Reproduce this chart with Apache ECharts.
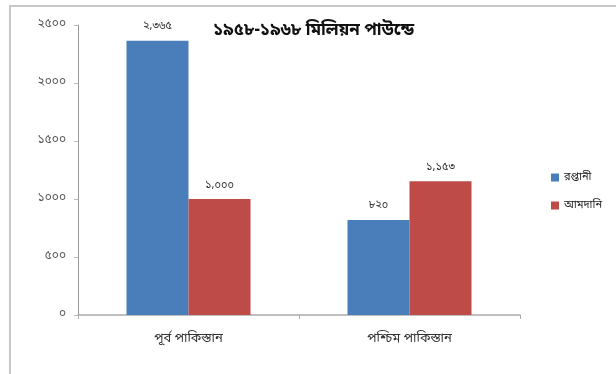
<!DOCTYPE html>
<html>
<head>
<meta charset="utf-8">
<script src="https://cdn.jsdelivr.net/npm/echarts@6/dist/echarts.min.js"></script>
<style>
  html, body { margin: 0; padding: 0; background: #fff; }
  #chart { width: 616px; height: 374px; }
</style>
</head>
<body>
<div id="chart"></div>
<script>
// চার্টের তথ্য
var categories = ["পূর্ব পাকিস্তান", "পশ্চিম পাকিস্তান"];
var exportValues = [2365, 820];   // রপ্তানী
var importValues = [1000, 1153];  // আমদানি
var seriesNames = ["রপ্তানী", "আমদানি"];
var titleText = "১৯৫৮-১৯৬৮ মিলিয়ন পাউন্ডে";

var bnDigits = "০১২৩৪৫৬৭৮৯";
function toBn(str) {
  return String(str).replace(/[0-9]/g, function (d) { return bnDigits[+d]; });
}
function withComma(v) {
  return v >= 1000 ? Math.floor(v / 1000) + "," + String(v % 1000).padStart(3, "0") : String(v);
}

var font = "'Noto Sans Bengali', 'Noto Sans', sans-serif";
var chart = echarts.init(document.getElementById("chart"));

var labelStyle = {
  show: true,
  position: "top",
  distance: 8,
  fontSize: 11,
  color: "#333",
  fontFamily: font,
  formatter: function (p) { return toBn(withComma(p.value)); }
};

chart.setOption({
  backgroundColor: "#fff",
  animation: false,
  textStyle: { fontFamily: font },
  title: {
    text: titleText,
    left: 208,
    top: 18,
    textStyle: { fontSize: 17, fontWeight: "bold", color: "#111", fontFamily: font }
  },
  graphic: [
    {
      type: "rect",
      shape: { x: 10, y: 6, width: 640, height: 400 },
      style: { fill: "none", stroke: "#c8c8c8", lineWidth: 2 },
      silent: true
    }
  ],
  legend: {
    orient: "vertical",
    left: 546,
    top: 167,
    itemWidth: 8,
    itemHeight: 8,
    itemGap: 17,
    icon: "rect",
    textStyle: { fontSize: 11, color: "#222", fontFamily: font },
    data: seriesNames
  },
  grid: { left: 78, right: 96, top: 25, bottom: 59 },
  xAxis: {
    type: "category",
    data: categories,
    axisLine: { lineStyle: { color: "#aaa", width: 1.5 } },
    axisTick: { show: true, length: 4, lineStyle: { color: "#aaa" } },
    axisLabel: { fontSize: 13, color: "#333", margin: 18, fontFamily: font }
  },
  yAxis: {
    type: "value",
    min: 0,
    max: 2500,
    interval: 500,
    splitLine: { show: false },
    axisLine: { show: true, lineStyle: { color: "#999", width: 1 } },
    axisTick: { show: true, length: 4, inside: false, lineStyle: { color: "#bbb" } },
    axisLabel: {
      fontSize: 12,
      color: "#555",
      margin: 12,
      fontFamily: font,
      formatter: function (v) { return toBn(v); }
    }
  },
  series: [
    {
      name: seriesNames[0],
      type: "bar",
      data: exportValues,
      barWidth: 62,
      barGap: "0%",
      itemStyle: { color: "#4a7ebb" },
      label: labelStyle
    },
    {
      name: seriesNames[1],
      type: "bar",
      data: importValues,
      barWidth: 62,
      barGap: "0%",
      itemStyle: { color: "#be4b48" },
      label: labelStyle
    }
  ]
});
</script>
</body>
</html>
